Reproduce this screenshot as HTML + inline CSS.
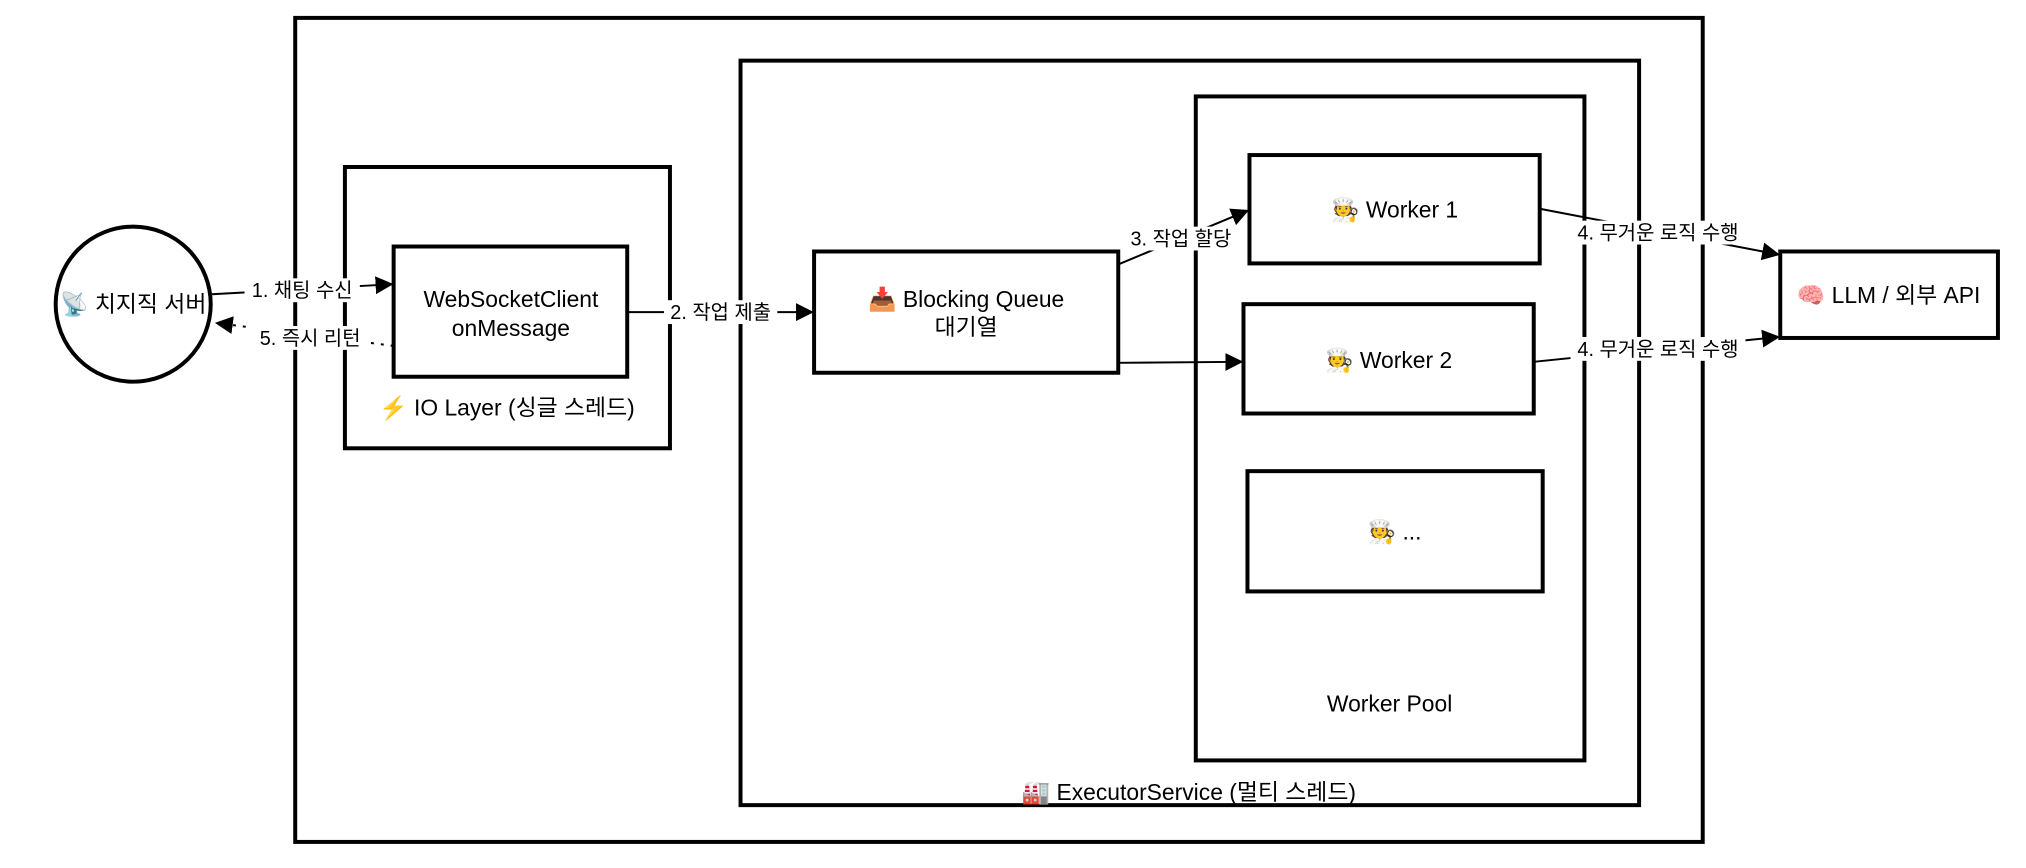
<!DOCTYPE html>
<html><head><meta charset="utf-8"><style>
html,body{margin:0;padding:0;background:#fff;}
svg{display:block;}
text{font-family:"Liberation Sans","Noto Sans CJK KR",sans-serif;fill:#000;}
</style></head><body>
<svg width="2026" height="868" viewBox="0 0 2026 868" xmlns="http://www.w3.org/2000/svg">
<defs>
<marker id="b" viewBox="0 0 10 10" markerWidth="18" markerHeight="18" refX="9" refY="5" orient="auto" markerUnits="userSpaceOnUse">
<path d="M0,0 L10,5 L0,10 z" fill="#000"/></marker>
</defs>
<g transform="scale(0.994)">
<g fill="none" stroke="#000" stroke-width="4">
<rect x="297" y="18" width="1416" height="829"/>
<rect x="745" y="61" width="904" height="749"/>
<rect x="1203" y="97" width="391" height="668"/>
<rect x="347" y="168" width="327" height="283"/>
<rect x="396" y="248" width="235" height="131"/>
<circle cx="134" cy="306" r="78"/>
<rect x="819" y="253" width="306" height="122"/>
<rect x="1257" y="156" width="292" height="109"/>
<rect x="1251" y="306" width="292" height="110"/>
<rect x="1255" y="474" width="297" height="121"/>
<rect x="1791" y="253" width="219" height="87"/>
</g>
<g stroke="#000" stroke-width="2" fill="none">
<line x1="213" y1="296" x2="394" y2="286" marker-end="url(#b)"/>
<line x1="396" y1="348" x2="218" y2="325" stroke-dasharray="3,7" marker-end="url(#b)"/>
<line x1="631" y1="314" x2="817" y2="314" marker-end="url(#b)"/>
<line x1="1125" y1="266" x2="1255" y2="212" marker-end="url(#b)"/>
<line x1="1125" y1="365" x2="1249" y2="364" marker-end="url(#b)"/>
<line x1="1549" y1="210" x2="1789" y2="256" marker-end="url(#b)"/>
<line x1="1543" y1="364" x2="1789" y2="339" marker-end="url(#b)"/>
</g>
<g font-size="20" text-anchor="middle">
<rect x="246" y="280" width="116" height="24" fill="#fff"/>
<text x="304" y="299">1. 채팅 수신</text>
<rect x="254" y="328" width="116" height="24" fill="#fff"/>
<text x="312" y="347">5. 즉시 리턴</text>
<rect x="668" y="302" width="114" height="24" fill="#fff"/>
<text x="725" y="321">2. 작업 제출</text>
<rect x="1134" y="228" width="108" height="24" fill="#fff"/>
<text x="1188" y="247">3. 작업 할당</text>
<rect x="1580" y="222" width="176" height="24" fill="#fff"/>
<text x="1668" y="241">4. 무거운 로직 수행</text>
<rect x="1580" y="339" width="176" height="24" fill="#fff"/>
<text x="1668" y="358">4. 무거운 로직 수행</text>
</g>
<g font-size="23" text-anchor="middle">
<text x="134" y="314">📡 치지직 서버</text>
<text x="514" y="309">WebSocketClient</text>
<text x="514" y="338">onMessage</text>
<text x="510" y="418">⚡ IO Layer (싱글 스레드)</text>
<text x="972" y="309">📥 Blocking Queue</text>
<text x="972" y="337">대기열</text>
<text x="1403" y="219">🧑‍🍳 Worker 1</text>
<text x="1397" y="370">🧑‍🍳 Worker 2</text>
<text x="1403" y="543">🧑‍🍳 ...</text>
<text x="1398" y="716">Worker Pool</text>
<text x="1196" y="805">🏭 ExecutorService (멀티 스레드)</text>
<text x="1900" y="305">🧠 LLM / 외부 API</text>
</g>
</g>
</svg>
</body></html>
